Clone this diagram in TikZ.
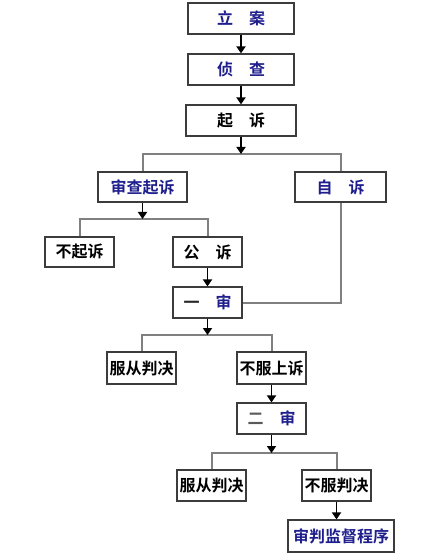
\documentclass[tikz,border=0pt]{standalone}
\usepackage{fontspec}
\newfontfamily\cjk{Noto Sans CJK SC}[BoldFont={Noto Sans CJK SC Bold}]
\usetikzlibrary{arrows.meta}
\definecolor{navy}{HTML}{1E1E8C}
\definecolor{boxline}{HTML}{3C3C3C}
\definecolor{branch}{HTML}{808080}
\tikzset{
  box/.style={draw=boxline, line width=1.2bp, fill=white, inner sep=0pt,
    font=\cjk\bfseries\fontsize{16bp}{18bp}\selectfont, text=black},
  bluet/.style={text=navy},
  arr/.style={draw=black, line width=1.8bp, -{Triangle[length=7bp,width=9bp]}},
  br/.style={draw=branch, line width=2bp}
}
\begin{document}
\begin{tikzpicture}[x=1bp,y=-1bp]
\useasboundingbox[fill=white] (0,0) rectangle (443,558);
\node[box,bluet,minimum width=106bp,minimum height=31bp] (la) at (241,18.5) {立　案};
\node[box,bluet,minimum width=106bp,minimum height=31bp] (zc) at (241,69.5) {侦　查};
\node[box,minimum width=110bp,minimum height=31bp] (qs) at (241,120.5) {起　诉};
\node[box,bluet,minimum width=89bp,minimum height=30bp] (scqs) at (142.5,187) {审查起诉};
\node[box,bluet,minimum width=91bp,minimum height=30bp] (zs) at (340.5,187) {自　诉};
\node[box,minimum width=69bp,minimum height=30bp] (bqs) at (79.5,252) {不起诉};
\node[box,minimum width=69bp,minimum height=30bp] (gs) at (207.5,252) {公　诉};
\node[box,minimum width=69bp,minimum height=31bp] (ys) at (207.5,302.5) {{\color{black!85}一}　\textcolor{navy}{审}};
\node[box,minimum width=69bp,minimum height=32bp] (fc1) at (141.5,368) {服从判决};
\node[box,minimum width=69bp,minimum height=32bp] (bfss) at (271.5,368) {不服上诉};
\node[box,minimum width=69bp,minimum height=31bp] (es) at (271.5,418.5) {{\color{black!65}二}　\textcolor{navy}{审}};
\node[box,minimum width=69bp,minimum height=31bp] (fc2) at (211.5,485.5) {服从判决};
\node[box,minimum width=69bp,minimum height=31bp] (bfpj) at (336.5,485.5) {不服判决};
\node[box,bluet,minimum width=106bp,minimum height=32bp] (spjd) at (341,536) {审判监督程序};
\coordinate (b1) at (241,154);
\coordinate (b2) at (142.5,219);
\coordinate (b3) at (207.5,335);
\coordinate (b4) at (271.5,453);
% branches
\draw[br] (scqs.north) |- (b1) -| (zs.north);
\draw[br] (bqs.north) |- (b2) -| (gs.north);
\draw[br] (zs.south) |- (ys.east);
\draw[br] (fc1.north) |- (b3) -| (bfss.north);
\draw[br] (fc2.north) |- (b4) -| (bfpj.north);
% arrows
\draw[arr] (la.south) -- (zc.north);
\draw[arr] (zc.south) -- (qs.north);
\draw[arr] (qs.south) -- (b1);
\draw[arr] (scqs.south) -- (b2);
\draw[arr] (gs.south) -- (ys.north);
\draw[arr] (ys.south) -- (b3);
\draw[arr] (bfss.south) -- (es.north);
\draw[arr] (es.south) -- (b4);
\draw[arr] (bfpj.south) -- (bfpj.south |- spjd.north);
\end{tikzpicture}
\end{document}
